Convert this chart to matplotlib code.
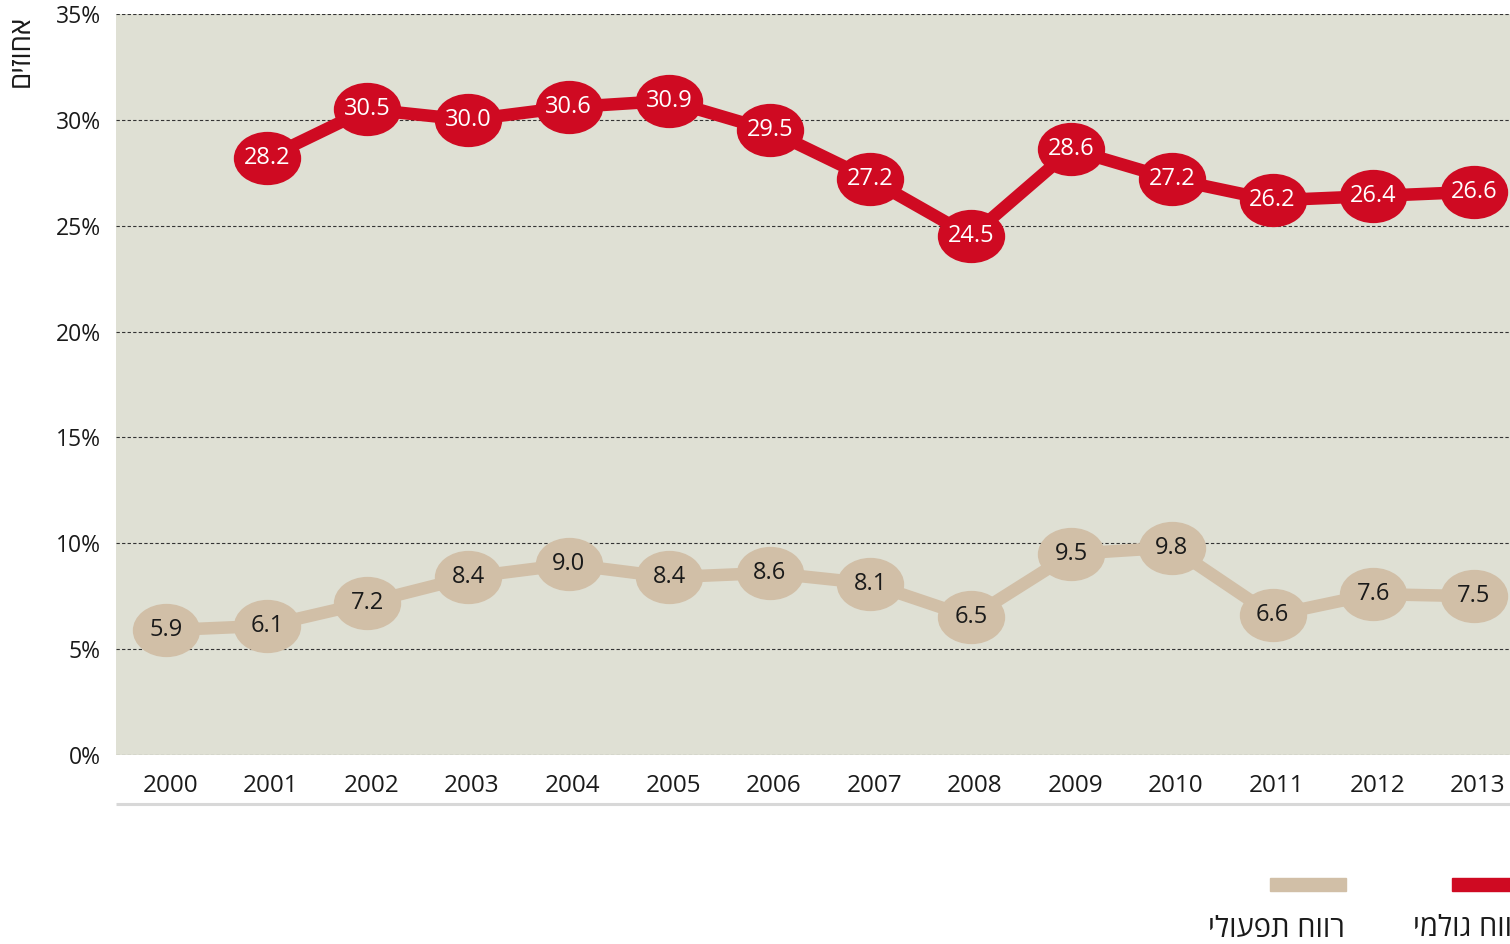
"""
Gross vs. operating profit, 2000-2013.
"""

import numpy as np
import matplotlib.pyplot as plt
from matplotlib.path import Path
from matplotlib.patches import Rectangle
from matplotlib.transforms import ScaledTranslation, Affine2D

# colour constants
RED = '#cf0a22'
TAN = '#d1bfa7'
BG = '#dfe0d4'
AXIS_GRAY = '#d8d8d8'
INK = '#1a1a1a'

FONT = ['Open Sans', 'DejaVu Sans']
plt.rcParams['font.family'] = FONT

# data
years = ['2000', '2001', '2002', '2003', '2004', '2005', '2006',
         '2007', '2008', '2009', '2010', '2011', '2012', '2013']
gross = [np.nan, 28.2, 30.5, 30.0, 30.6, 30.9, 29.5,
         27.2, 24.5, 28.6, 27.2, 26.2, 26.4, 26.6]
operating = [5.9, 6.1, 7.2, 8.4, 9.0, 8.4, 8.6,
             8.1, 6.5, 9.5, 9.8, 6.6, 7.6, 7.5]
y_ticks = [0, 5, 10, 15, 20, 25, 30, 35]

# hebrew strings, stored in visual order (matplotlib has no bidi)
Y_LABEL = 'אחוזים'[::-1]
GROSS_LABEL = 'רווח גולמי'[::-1]
OPER_LABEL = 'רווח תפעולי'[::-1]

# elliptical marker, wider than tall
ellipse = Path.unit_circle().transformed(Affine2D().scale(1.0, 53 / 67))

fig = plt.figure(figsize=(15.10, 9.44), dpi=100)
ax = fig.add_axes([116 / 1510, 189 / 944, 1408 / 1510, 741 / 944])
ax.set_facecolor(BG)

x = np.arange(len(years))

ax.plot(x, operating, color=TAN, lw=9, marker=ellipse, ms=48.5,
        mec='none', solid_capstyle='butt', zorder=3)
ax.plot(x, gross, color=RED, lw=9, marker=ellipse, ms=48.5,
        mec='none', solid_capstyle='butt', zorder=3)

for xi, v in zip(x, operating):
    ax.text(xi, v, f'{v:.1f}', ha='center', va='center', fontsize=17,
            color=INK, zorder=4)
for xi, v in zip(x, gross):
    if np.isnan(v):
        continue
    ax.text(xi, v, f'{v:.1f}', ha='center', va='center', fontsize=17,
            color='white', zorder=4)

ax.set_xlim(-0.5, len(years) - 0.5)
ax.set_ylim(0, 35)
ax.set_yticks(y_ticks)
ax.set_yticklabels([f'{t}%' for t in y_ticks])
ax.set_xticks(x)
ax.set_xticklabels(years)
ax.tick_params(axis='both', length=0, colors=INK)
ax.tick_params(axis='y', pad=11, labelsize=16.5)
ax.tick_params(axis='x', pad=14, labelsize=17.5)
for lab in ax.get_xticklabels():
    lab.set_transform(lab.get_transform() + ScaledTranslation(4 / 100, 0, fig.dpi_scale_trans))

ax.grid(axis='y', color='#333333', ls=(0, (3, 2)), lw=0.8)
ax.set_axisbelow(True)
for s in ['top', 'right', 'left', 'bottom']:
    ax.spines[s].set_visible(False)

# light gray base line below the tick labels
base = ax.transAxes + ScaledTranslation(0, -49 / 100, fig.dpi_scale_trans)
ax.plot([0, 1], [0, 0], transform=base, color=AXIS_GRAY, lw=2.2,
        clip_on=False, solid_capstyle='butt')

fig.text(22 / 1510, 1 - 51 / 944, Y_LABEL, rotation=90, ha='center', va='center',
         fontsize=20, color=INK)

# legend drawn by hand
fig.patches.append(Rectangle((1270 / 1510, 1 - 891 / 944), 76 / 1510, 13 / 944,
                             transform=fig.transFigure, color=TAN))
fig.patches.append(Rectangle((1452 / 1510, 1 - 891 / 944), 76 / 1510, 13 / 944,
                             transform=fig.transFigure, color=RED))
fig.text(1345 / 1510, 1 - 929 / 944, OPER_LABEL, ha='right', va='center',
         fontsize=21, color=INK)
fig.text(1527 / 1510, 1 - 929 / 944, GROSS_LABEL, ha='right', va='center',
         fontsize=21, color=INK)

fig.savefig('out.png')
